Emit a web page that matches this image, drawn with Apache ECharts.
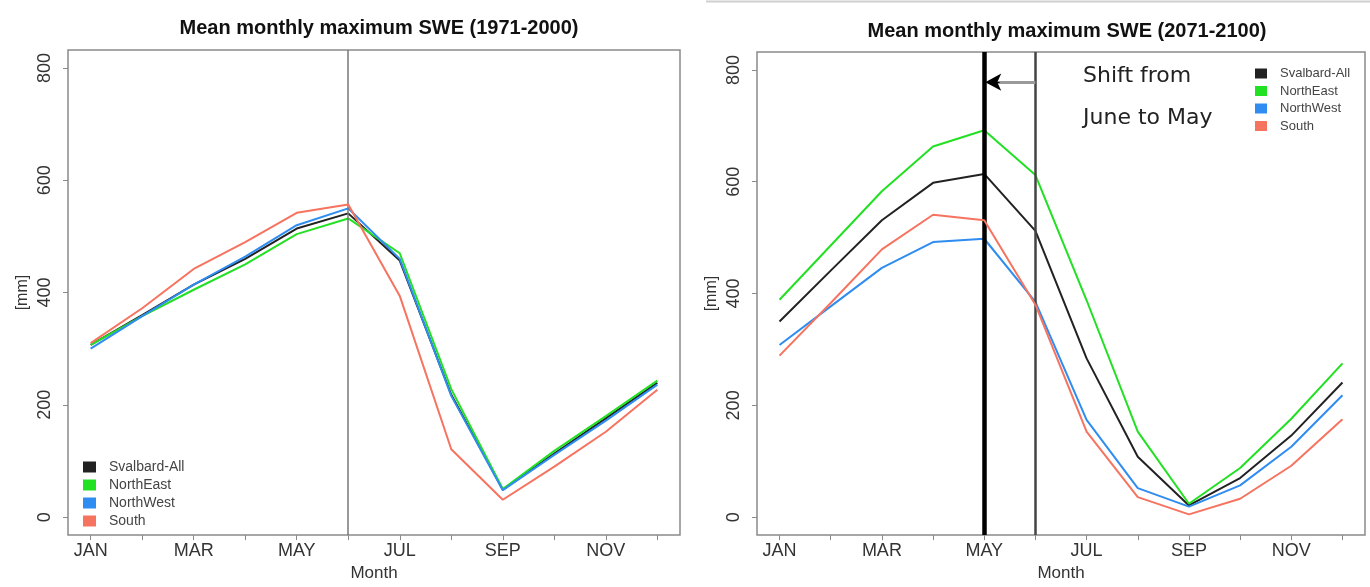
<!DOCTYPE html>
<html>
<head>
<meta charset="utf-8">
<title>Mean monthly maximum SWE</title>
<script src="https://cdn.jsdelivr.net/npm/echarts@6/dist/echarts.min.js"></script>
<style>
  html, body { margin: 0; padding: 0; background: #ffffff; }
  #chart { width: 1370px; height: 587px; }
</style>
</head>
<body>
<div id="chart"></div>
<script>
// Months and axis ticks
const months = ['JAN', 'FEB', 'MAR', 'APR', 'MAY', 'JUN', 'JUL', 'AUG', 'SEP', 'OCT', 'NOV', 'DEC'];
const monthTicks = [1, 2, 3, 4, 5, 6, 7, 8, 9, 10, 11, 12];
const monthLabelTicks = [1, 3, 5, 7, 9, 11];
const sweTicks = [0, 200, 400, 600, 800];

// Region names and colours
const regions = ['Svalbard-All', 'NorthEast', 'NorthWest', 'South'];
const regionColors = ['#222222', '#22e022', '#2f8cf0', '#f67360'];

// Mean monthly maximum SWE [mm], 1971-2000
const hist_SvalbardAll = [307, 360, 414, 460, 514, 541, 457, 218, 49, 113, 176, 239];
const hist_NorthEast   = [307, 358, 405, 450, 504, 532, 470, 228, 50, 118, 180, 243];
const hist_NorthWest   = [300, 358, 414, 464, 520, 550, 460, 216, 48, 111, 172, 236];
const hist_South       = [310, 372, 442, 490, 542, 557, 394, 121, 31, 90, 152, 227];

// Mean monthly maximum SWE [mm], 2071-2100
const fut_SvalbardAll = [350, 441, 531, 598, 614, 512, 284, 108, 21, 70, 146, 241];
const fut_NorthEast   = [389, 486, 583, 663, 692, 612, 388, 153, 24, 88, 176, 275];
const fut_NorthWest   = [308, 377, 446, 492, 498, 385, 174, 52, 19, 57, 126, 218];
const fut_South       = [289, 383, 479, 541, 531, 380, 153, 36, 5, 33, 92, 175];

// Month of the peak: June in 1971-2000, May in 2071-2100
const peakMonthHist = 6;
const peakMonthFut = 5;
const shiftArrowLevel = 778;

const histSeries = [hist_SvalbardAll, hist_NorthEast, hist_NorthWest, hist_South];
const futSeries = [fut_SvalbardAll, fut_NorthEast, fut_NorthWest, fut_South];

const FONT = "'Liberation Sans', Arial, Helvetica, sans-serif";
const TXT = '#333333';
const FRAME = '#8a8a8a';

function xAxisFor(gridIndex) {
  return {
    type: 'value', gridIndex: gridIndex, min: 0.56, max: 12.44,
    axisLine: { show: false, onZero: false },
    axisTick: { customValues: monthTicks, length: 5, lineStyle: { color: FRAME, width: 1 } },
    axisLabel: {
      customValues: monthLabelTicks, margin: 7, fontSize: 18, color: TXT, fontFamily: FONT,
      formatter: function (v) { return months[Math.round(v) - 1]; }
    },
    splitLine: { show: false },
    name: 'Month', nameLocation: 'middle', nameGap: 29,
    nameTextStyle: { fontSize: 17, color: TXT, fontFamily: FONT }
  };
}

function yAxisFor(gridIndex) {
  return {
    type: 'value', gridIndex: gridIndex, min: -32, max: 832,
    axisLine: { show: false, onZero: false },
    axisTick: { customValues: sweTicks, length: 5, lineStyle: { color: FRAME, width: 1 } },
    axisLabel: { customValues: sweTicks, rotate: 90, margin: 14, fontSize: 18, color: TXT, fontFamily: FONT },
    splitLine: { show: false },
    name: '[mm]', nameLocation: 'middle', nameGap: 37,
    nameTextStyle: { fontSize: 16, color: TXT, fontFamily: FONT }
  };
}

function toPoints(values) {
  return values.map(function (v, i) { return [monthTicks[i], v]; });
}

const series = [];
histSeries.forEach(function (vals, i) {
  series.push({
    name: regions[i], type: 'line', xAxisIndex: 0, yAxisIndex: 0,
    data: toPoints(vals), symbol: 'none', silent: true,
    lineStyle: { width: 2, color: regionColors[i] }, itemStyle: { color: regionColors[i] },
    z: 2 + i
  });
});
futSeries.forEach(function (vals, i) {
  series.push({
    name: regions[i], type: 'line', xAxisIndex: 1, yAxisIndex: 1,
    data: toPoints(vals), symbol: 'none', silent: true,
    lineStyle: { width: 2, color: regionColors[i] }, itemStyle: { color: regionColors[i] },
    z: 2 + i
  });
});

// Peak-month marker, 1971-2000
series[0].markLine = {
  silent: true, symbol: 'none', label: { show: false },
  data: [{ xAxis: peakMonthHist, lineStyle: { color: '#777777', width: 1.5, type: 'solid' } }]
};

// Old and new peak months with the shift arrow, 2071-2100
series[4].markLine = {
  silent: true, symbol: 'none', label: { show: false },
  data: [
    { xAxis: peakMonthFut, lineStyle: { color: '#000000', width: 4.5, type: 'solid' } },
    { xAxis: peakMonthHist, lineStyle: { color: '#444444', width: 2.5, type: 'solid' } },
    [
      { coord: [peakMonthHist, shiftArrowLevel], lineStyle: { color: '#9a9a9a', width: 3, type: 'solid' } },
      { coord: [peakMonthFut + 0.1, shiftArrowLevel] }
    ],
    [
      { coord: [peakMonthFut + 0.3, shiftArrowLevel], symbol: 'none',
        lineStyle: { color: '#000000', width: 1, type: 'solid' } },
      { coord: [peakMonthFut + 0.02, shiftArrowLevel], symbol: 'arrow', symbolSize: [13, 16] }
    ]
  ]
};

const legendBase = {
  orient: 'vertical', icon: 'rect', selectedMode: false,
  data: regions
};

const option = {
  backgroundColor: '#ffffff',
  animation: false,
  title: [
    {
      text: 'Mean monthly maximum SWE (1971-2000)',
      left: 374, textAlign: 'center', top: 13,
      textStyle: { fontSize: 20, fontWeight: 'bold', color: '#111111', fontFamily: FONT }
    },
    {
      text: 'Mean monthly maximum SWE (2071-2100)',
      left: 1062, textAlign: 'center', top: 16,
      textStyle: { fontSize: 20, fontWeight: 'bold', color: '#111111', fontFamily: FONT }
    }
  ],
  legend: [
    Object.assign({}, legendBase, {
      left: 78, top: 455, itemWidth: 13, itemHeight: 11, itemGap: 4,
      textStyle: { fontSize: 14, color: '#444444', fontFamily: FONT, padding: [0, 0, 0, 8] }
    }),
    Object.assign({}, legendBase, {
      left: 1250, top: 62, itemWidth: 12, itemHeight: 10, itemGap: 4.5,
      textStyle: { fontSize: 13, color: '#444444', fontFamily: FONT, padding: [0, 0, 0, 8] }
    })
  ],
  grid: [
    { left: 68, top: 50, width: 612, height: 489, show: true, borderColor: FRAME, borderWidth: 1.5, backgroundColor: 'transparent' },
    { left: 757, top: 52, width: 608, height: 486, show: true, borderColor: FRAME, borderWidth: 1.5, backgroundColor: 'transparent' }
  ],
  xAxis: [xAxisFor(0), xAxisFor(1)],
  yAxis: [yAxisFor(0), yAxisFor(1)],
  series: series,
  graphic: [
    {
      type: 'line', silent: true,
      shape: { x1: 706, y1: 1.5, x2: 1370, y2: 1.5 },
      style: { stroke: '#cfcfcf', lineWidth: 2 }
    },
    {
      type: 'text', left: 1083, top: 65, silent: true,
      style: { text: 'Shift from', fontSize: 22, fill: '#222222', fontFamily: "'DejaVu Sans', sans-serif" }
    },
    {
      type: 'text', left: 1083, top: 107, silent: true,
      style: { text: 'June to May', fontSize: 22, fill: '#222222', fontFamily: "'DejaVu Sans', sans-serif" }
    }
  ]
};

const chart = echarts.init(document.getElementById('chart'), null, { renderer: 'canvas' });
chart.setOption(option);
</script>
</body>
</html>
